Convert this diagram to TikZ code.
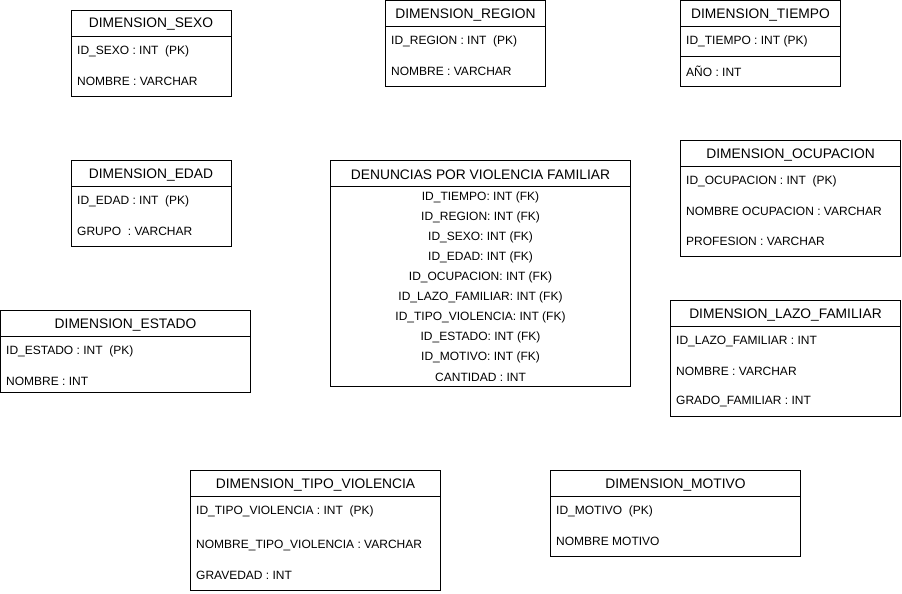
\documentclass[tikz,border=0pt]{standalone}
\usepackage{fontspec}
\setmainfont{Liberation Sans}
\tikzset{
  tbox/.style={draw=black, line width=0.9pt, fill=white, anchor=north west, inner sep=0pt, outer sep=0pt},
  ttitle/.style={font=\fontsize{13.8}{16}\selectfont, inner sep=0pt, anchor=center, yshift=-1.5pt},
  trow/.style={font=\fontsize{12}{14}\selectfont, inner sep=0pt, anchor=west, yshift=-1.5pt},
  crow/.style={font=\fontsize{12}{14}\selectfont, inner sep=0pt, anchor=center, yshift=-1.5pt},
  hline/.style={draw=black, line width=0.9pt}
}
% \tbl{name}{x}{y}{w}{h}{header bottom y}{title}
\newcommand{\tbl}[7]{%
  \node[tbox, minimum width=#4pt, minimum height=#5pt] (#1) at (#2,#3) {};
  \node[ttitle] (#1-t) at ({#2+#4/2},{(#3+#6)/2}) {#7};
  \draw[hline] (#2,#6) -- ({#2+#4},#6);
}
\begin{document}
\begin{tikzpicture}[x=1pt,y=-1pt]
\useasboundingbox (0,0) rectangle (902,594);

% DIMENSION_SEXO
\tbl{sexo}{71}{10}{160}{86}{36}{DIMENSION\_SEXO}
\node[trow] (sexo-r1) at (77,50) {ID\_SEXO : INT \ (PK)};
\node[trow] (sexo-r2) at (77,80) {NOMBRE : VARCHAR};

% DIMENSION_REGION
\tbl{region}{385.5}{0.5}{160}{86}{26}{DIMENSION\_REGION}
\node[trow] (region-r1) at (391,40) {ID\_REGION : INT \ (PK)};
\node[trow] (region-r2) at (391,70) {NOMBRE : VARCHAR};

% DIMENSION_TIEMPO
\tbl{tiempo}{680.5}{0.5}{160}{86}{26}{DIMENSION\_TIEMPO}
\draw[hline] (680.5,56) -- (840.5,56);
\node[trow] (tiempo-r1) at (686,40) {ID\_TIEMPO : INT (PK)};
\node[trow] (tiempo-r2) at (686,70) {AÑO : INT};

% DIMENSION_EDAD
\tbl{edad}{71}{160.5}{160}{86}{186}{DIMENSION\_EDAD}
\node[trow] (edad-r1) at (77,200) {ID\_EDAD : INT \ (PK)};
\node[trow] (edad-r2) at (77,230) {GRUPO \ : VARCHAR};

% DENUNCIAS
\tbl{den}{330.5}{160.5}{300}{226}{186}{DENUNCIAS POR VIOLENCIA FAMILIAR}
\node[crow] (den-r1) at (480.5,196) {ID\_TIEMPO: INT (FK)};
\node[crow] (den-r2) at (480.5,216) {ID\_REGION: INT (FK)};
\node[crow] (den-r3) at (480.5,236) {ID\_SEXO: INT (FK)};
\node[crow] (den-r4) at (480.5,256) {ID\_EDAD: INT (FK)};
\node[crow] (den-r5) at (480.5,276) {ID\_OCUPACION: INT (FK)};
\node[crow] (den-r6) at (480.5,296) {ID\_LAZO\_FAMILIAR: INT (FK)};
\node[crow] (den-r7) at (480.5,316) {ID\_TIPO\_VIOLENCIA: INT (FK)};
\node[crow] (den-r8) at (480.5,336) {ID\_ESTADO: INT (FK)};
\node[crow] (den-r9) at (480.5,356) {ID\_MOTIVO: INT (FK)};
\node[crow] (den-r10) at (480.5,376) {CANTIDAD : INT};

% DIMENSION_OCUPACION
\tbl{ocup}{680.5}{140.5}{220}{116}{166}{DIMENSION\_OCUPACION}
\node[trow] (ocup-r1) at (686,180) {ID\_OCUPACION : INT \ (PK)};
\node[trow] (ocup-r2) at (686,210) {NOMBRE OCUPACION : VARCHAR};
\node[trow] (ocup-r3) at (686,240) {PROFESION : VARCHAR};

% DIMENSION_ESTADO
\tbl{estado}{0.5}{310.5}{250}{82}{336}{DIMENSION\_ESTADO}
\node[trow] (estado-r1) at (6,350) {ID\_ESTADO : INT \ (PK)};
\node[trow] (estado-r2) at (6,380) {NOMBRE : INT};

% DIMENSION_LAZO_FAMILIAR
\tbl{lazo}{670.5}{300.5}{230}{116}{326}{DIMENSION\_LAZO\_FAMILIAR}
\node[trow] (lazo-r1) at (676,340) {ID\_LAZO\_FAMILIAR : INT};
\node[trow] (lazo-r2) at (676,370) {NOMBRE : VARCHAR};
\node[trow] (lazo-r3) at (676,400) {GRADO\_FAMILIAR : INT};

% DIMENSION_TIPO_VIOLENCIA
\tbl{tipo}{190.5}{470.5}{250}{120}{496}{DIMENSION\_TIPO\_VIOLENCIA}
\node[trow] (tipo-r1) at (196,510) {ID\_TIPO\_VIOLENCIA : INT \ (PK)};
\node[trow] (tipo-r2) at (196,544) {NOMBRE\_TIPO\_VIOLENCIA : VARCHAR};
\node[trow] (tipo-r3) at (196,574) {GRAVEDAD : INT};

% DIMENSION_MOTIVO
\tbl{motivo}{550.5}{470.5}{250}{86}{496}{DIMENSION\_MOTIVO}
\node[trow] (motivo-r1) at (556,510) {ID\_MOTIVO \ (PK)};
\node[trow] (motivo-r2) at (556,540) {NOMBRE MOTIVO};
\end{tikzpicture}
\end{document}
